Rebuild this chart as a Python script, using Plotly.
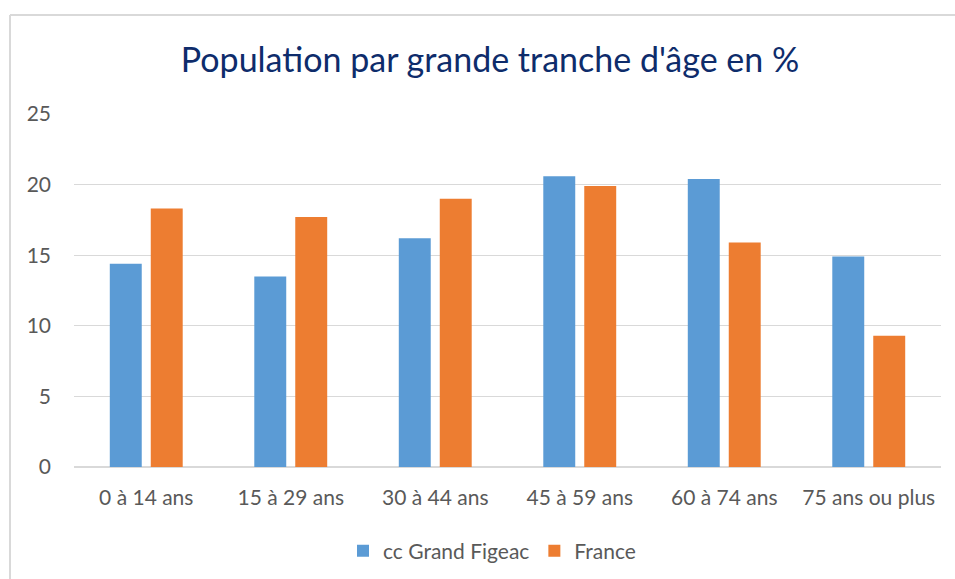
import plotly.graph_objects as go

categories = ["0 à 14 ans", "15 à 29 ans", "30 à 44 ans", "45 à 59 ans", "60 à 74 ans", "75 ans ou plus"]
grand_figeac = [14.4, 13.5, 16.2, 20.6, 20.4, 14.9]
france = [18.3, 17.7, 19.0, 19.9, 15.9, 9.3]
y_ticks = [0, 5, 10, 15, 20, 25]

W, H = 955, 579
L, R, T, B = 74, 14, 114, 112
pw, ph = W - L - R, H - T - B

def px_x(x):
    return (x - L) / pw

def px_y(y):
    return (H - B - y) / ph

font = "Lato, 'Open Sans', sans-serif"

fig = go.Figure()
fig.add_trace(go.Bar(name="cc Grand Figeac", x=categories, y=grand_figeac,
                     marker=dict(color="#5B9BD5", line=dict(width=0))))
fig.add_trace(go.Bar(name="France", x=categories, y=france,
                     marker=dict(color="#ED7D31", line=dict(width=0))))

fig.update_layout(
    width=W, height=H,
    margin=dict(l=L, r=R, t=T, b=B, autoexpand=False),
    paper_bgcolor="white", plot_bgcolor="white",
    barmode="group", bargap=0.433, bargroupgap=0.22,
    font=dict(family=font, color="#595959", size=21),
    title=dict(text="Population par grande tranche d'âge en %",
               font=dict(family=font, size=34, color="#0E2C6B"),
               x=px_x(490), xref="paper", xanchor="center",
               y=1 - 60 / H, yref="container", yanchor="middle"),
    legend=dict(orientation="h", x=px_x(492), xanchor="center",
                y=px_y(551), yanchor="middle",
                font=dict(family=font, size=21, color="#595959"),
                itemwidth=30, traceorder="normal"),
    xaxis=dict(showgrid=False, showline=False, ticks="",
               tickfont=dict(size=21, color="#595959"),
               ticklabelstandoff=16),
    yaxis=dict(range=[0, 25], tickvals=y_ticks, showgrid=True,
               gridcolor="#D9D9D9", gridwidth=1.3,
               zeroline=True, zerolinecolor="#D9D9D9", zerolinewidth=1.6,
               showline=False, ticks="",
               tickfont=dict(size=21, color="#595959"),
               ticklabelstandoff=22),
    showlegend=True,
)

# chart area border (as in the source image)
fig.add_shape(type="line", xref="paper", yref="paper",
              x0=px_x(10), x1=px_x(10), y0=px_y(15), y1=px_y(600),
              line=dict(color="#D9D9D9", width=2))
fig.add_shape(type="line", xref="paper", yref="paper",
              x0=px_x(10), x1=px_x(970), y0=px_y(15), y1=px_y(15),
              line=dict(color="#D9D9D9", width=2))

fig.write_html("out.html", config={"displayModeBar": False},
               post_script="document.body.style.margin='0';document.body.style.overflow='hidden';")
